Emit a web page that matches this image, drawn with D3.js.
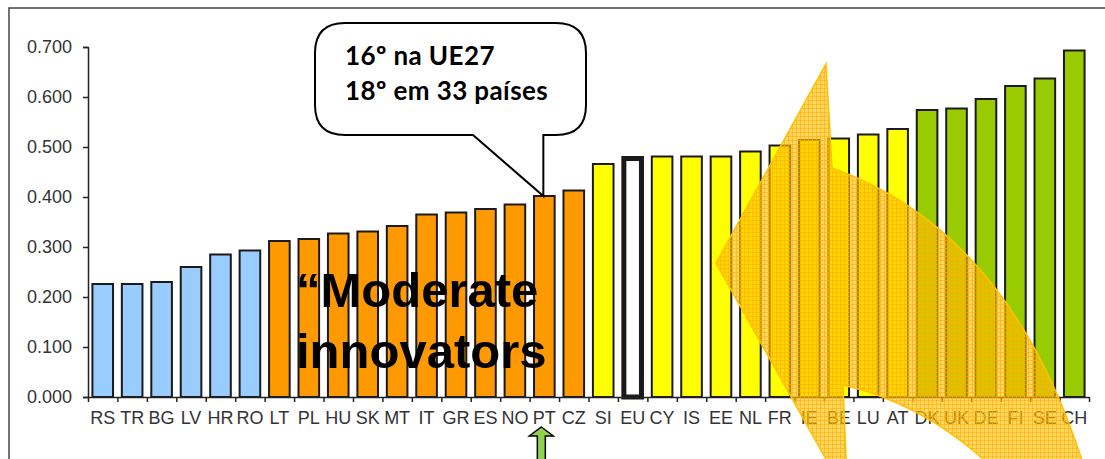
<!DOCTYPE html>
<html>
<head>
  <meta charset="utf-8">
  <style>
    body { margin: 0; background: #fff; }
    svg { display: block; }
    .axis text { font-family: Arial, "Liberation Sans", sans-serif; fill: #333; }
    .axis path, .axis line { stroke: #222; stroke-width: 1.5; }
  </style>
</head>
<body>
  <svg id="chart" width="1105" height="459"></svg>

  <script src="https://cdnjs.cloudflare.com/ajax/libs/d3/7.8.5/d3.min.js"></script>
  <script>
    // countries, ordered as in the chart
    var countries = ['RS', 'TR', 'BG', 'LV', 'HR', 'RO', 'LT', 'PL', 'HU', 'SK', 'MT', 'IT', 'GR', 'ES',
      'NO', 'PT', 'CZ', 'SI', 'EU', 'CY', 'IS', 'EE', 'NL', 'FR', 'IE', 'BE', 'LU', 'AT', 'DK', 'UK',
      'DE', 'FI', 'SE', 'CH'];
    // innovation index
    var scores = [0.226, 0.226, 0.230, 0.260, 0.285, 0.293, 0.312, 0.316, 0.327, 0.331, 0.342, 0.365,
      0.369, 0.376, 0.385, 0.402, 0.413, 0.466, 0.480, 0.481, 0.481, 0.481, 0.491, 0.503, 0.514, 0.517,
      0.525, 0.536, 0.574, 0.577, 0.596, 0.622, 0.637, 0.693];
    // group of each country: modest, moderate, follower, eu, leader
    var groups = ['mod', 'mod', 'mod', 'mod', 'mod', 'mod', 'moder', 'moder', 'moder', 'moder', 'moder',
      'moder', 'moder', 'moder', 'moder', 'moder', 'moder', 'foll', 'eu', 'foll', 'foll', 'foll', 'foll',
      'foll', 'foll', 'foll', 'foll', 'foll', 'lead', 'lead', 'lead', 'lead', 'lead', 'lead'];
    var yTicks = [0, 0.1, 0.2, 0.3, 0.4, 0.5, 0.6, 0.7];

    var colors = { mod: '#99ccff', moder: '#ff9900', foll: '#ffff00', eu: '#ffffff', lead: '#99cc00' };

    drawChart();

    function drawChart() {
      var svg = d3.select('#chart');
      var x0 = 88, x1 = 1089, y0 = 47, yBase = 397;

      var x = d3.scaleBand().domain(countries).range([x0, x1])
        .paddingInner(0.3).paddingOuter(0.15);
      var slots = d3.scaleLinear().domain([0, countries.length]).range([x0, x1]);
      var y = d3.scaleLinear().domain([0, 0.7]).range([yBase, y0]);

      // hatch pattern for the big arrow
      var pat = svg.append('defs').append('pattern').attr('id', 'hatch')
        .attr('width', 4).attr('height', 4).attr('patternUnits', 'userSpaceOnUse');
      pat.append('rect').attr('width', 4).attr('height', 4).attr('fill', 'rgba(255,192,0,0.62)');
      pat.append('path').attr('d', 'M0,0.5H4M0.5,0V4').attr('stroke', 'rgba(255,170,0,0.6)')
        .attr('stroke-width', 1);

      // frame
      svg.append('rect').attr('x', 9).attr('y', 8).attr('width', 1200).attr('height', 600)
        .attr('fill', 'none').attr('stroke', '#444').attr('stroke-width', 1.5);

      // bars
      var data = countries.map(function (c, i) { return { c: c, v: scores[i], g: groups[i] }; });
      svg.append('g').selectAll('rect').data(data).join('rect')
        .attr('x', d => x(d.c) + (d.g === 'eu' ? 1.5 : 0))
        .attr('width', d => x.bandwidth() - (d.g === 'eu' ? 3 : 0))
        .attr('y', d => y(d.v) + (d.g === 'eu' ? 1.5 : 0))
        .attr('height', d => y(0) - y(d.v) - (d.g === 'eu' ? 1.5 : 0))
        .attr('fill', d => colors[d.g])
        .attr('stroke', '#1a1a1a')
        .attr('stroke-width', d => d.g === 'eu' ? 5 : 2);

      // y axis
      svg.append('g').attr('class', 'axis').attr('transform', 'translate(' + x0 + ',0)')
        .call(d3.axisLeft(y).tickValues(yTicks).tickFormat(d3.format('.3f'))
          .tickSize(5).tickSizeOuter(5).tickPadding(11))
        .selectAll('text').style('font-size', '18px');

      // x axis: ticks between countries, labels centred
      svg.append('g').attr('class', 'axis').attr('transform', 'translate(0,' + yBase + ')')
        .call(d3.axisBottom(slots).tickValues(d3.range(countries.length + 1))
          .tickFormat('').tickSize(5).tickSizeOuter(0));
      svg.append('g').attr('class', 'axis').selectAll('text').data(countries).join('text')
        .attr('x', d => x(d) + x.bandwidth() / 2)
        .attr('y', 424)
        .attr('text-anchor', 'middle')
        .style('font-size', '18px')
        .text(d => d);

      // big label
      var big = svg.append('text')
        .style('font-family', 'Arial, "Liberation Sans", sans-serif')
        .style('font-weight', 'bold').style('font-size', '49px').attr('fill', '#000');
      big.append('tspan').attr('x', 296).attr('y', 307).text('\u201cModerate');
      big.append('tspan').attr('x', 296).attr('y', 368).text('innovators');

      // speech bubble pointing at PT
      var ptX = x('PT') + x.bandwidth() / 2 - 1;
      var ptY = y(scores[countries.indexOf('PT')]);
      var bx0 = 315, bx1 = 586, by0 = 23, by1 = 135, r = 30;
      var p = d3.path();
      p.moveTo(bx0 + r, by0);
      p.lineTo(bx1 - r, by0);
      p.quadraticCurveTo(bx1, by0, bx1, by0 + r);
      p.lineTo(bx1, by1 - r);
      p.quadraticCurveTo(bx1, by1, bx1 - r, by1);
      p.lineTo(ptX, by1);
      p.lineTo(ptX, ptY);
      p.lineTo(473, by1);
      p.lineTo(bx0 + r, by1);
      p.quadraticCurveTo(bx0, by1, bx0, by1 - r);
      p.lineTo(bx0, by0 + r);
      p.quadraticCurveTo(bx0, by0, bx0 + r, by0);
      p.closePath();
      svg.append('path').attr('d', p.toString()).attr('fill', '#fff')
        .attr('stroke', '#000').attr('stroke-width', 2);
      var note = svg.append('text').style('font-family', 'Lato, "Open Sans", sans-serif')
        .style('font-weight', 'bold').style('font-size', '26px').style('letter-spacing', '0.4px')
        .attr('fill', '#000');
      note.append('tspan').attr('x', 345).attr('y', 65).text('16\u00ba na UE27');
      note.append('tspan').attr('x', 345).attr('y', 100).text('18\u00ba em 33 pa\u00edses');

      // green arrow under PT
      var ax = x('PT') + x.bandwidth() / 2 - 3;
      svg.append('path')
        .attr('d', 'M' + ax + ',427 L' + (ax + 12) + ',436 L' + (ax + 4) + ',436 L' + (ax + 4) + ',465 L' +
          (ax - 4) + ',465 L' + (ax - 4) + ',436 L' + (ax - 12) + ',436 Z')
        .attr('fill', '#92d050').attr('stroke', '#000').attr('stroke-width', 1.5);

      // curved translucent arrow
      var a = d3.path();
      a.moveTo(826, 64);
      a.lineTo(832, 168);
      a.quadraticCurveTo(1011, 231, 1085, 470);
      a.lineTo(1000, 475);
      a.quadraticCurveTo(930, 405, 843, 385);
      a.lineTo(846.5, 470);
      a.lineTo(832, 470);
      a.lineTo(716, 263);
      a.closePath();
      svg.append('path').attr('d', a.toString()).attr('fill', 'url(#hatch)')
        .attr('stroke', '#ffc000').attr('stroke-width', 1.5);
    }
  </script>
</body>
</html>
